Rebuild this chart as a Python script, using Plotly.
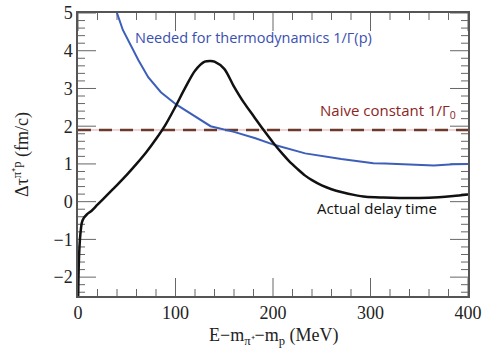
import plotly.graph_objects as go

# Actual delay time (black)
delay_x = [0.2, 0.5, 1, 2, 3, 4, 6, 9, 14, 20, 30, 40, 50, 60, 70, 80, 90, 100, 110, 120, 130, 136, 140,
           150, 160, 170, 180, 190, 200, 210, 216, 225, 233, 240, 250, 260, 271, 283, 295, 313, 330, 350,
           370, 385, 400]
delay_y = [-2.5, -2.0, -1.5, -1.0, -0.72, -0.55, -0.43, -0.34, -0.24, -0.08, 0.18, 0.44, 0.71, 1.0, 1.31,
           1.66, 2.05, 2.52, 3.02, 3.47, 3.71, 3.73, 3.71, 3.52, 3.05, 2.63, 2.27, 1.91, 1.57, 1.26, 1.09,
           0.87, 0.69, 0.57, 0.43, 0.33, 0.25, 0.18, 0.13, 0.11, 0.1, 0.1, 0.12, 0.15, 0.19]

# Needed for thermodynamics 1/Gamma(p) (blue)
thermo_x = [38, 40, 46, 55, 62, 72, 85, 101, 123, 136, 160, 182, 202, 233, 270, 303, 315, 335, 365, 385, 400]
thermo_y = [5.3, 5.0, 4.55, 4.1, 3.75, 3.3, 2.9, 2.57, 2.2, 2.0, 1.85, 1.68, 1.5, 1.28, 1.13, 1.02, 1.01,
            0.99, 0.96, 0.99, 1.0]

# Naive constant 1/Gamma_0
naive_x = [0, 400]
naive_y = [1.9, 1.9]

# tick positions
x_major = [0, 100, 200, 300, 400]
x_minor = [20, 40, 60, 80, 120, 140, 160, 180, 220, 240, 260, 280, 320, 340, 360, 380]
y_major = [-2, -1, 0, 1, 2, 3, 4, 5]
y_minor = [-2.4, -2.2, -1.8, -1.6, -1.4, -1.2, -0.8, -0.6, -0.4, -0.2, 0.2, 0.4, 0.6, 0.8,
           1.2, 1.4, 1.6, 1.8, 2.2, 2.4, 2.6, 2.8, 3.2, 3.4, 3.6, 3.8, 4.2, 4.4, 4.6, 4.8]

X_RANGE = [0, 400]
Y_RANGE = [-2.5, 5]
PLOT_W, PLOT_H = 390, 283  # plot area in pixels
px_x = (X_RANGE[1] - X_RANGE[0]) / PLOT_W
px_y = (Y_RANGE[1] - Y_RANGE[0]) / PLOT_H

# inward tick marks on all four sides, expressed in the axes' own units
tick_x, tick_y = [], []
for vals, length in [(x_major, 18), (x_minor, 7)]:
    for v in vals:
        tick_x += [v, v, None, v, v, None]
        tick_y += [Y_RANGE[0], Y_RANGE[0] + length * px_y, None,
                   Y_RANGE[1], Y_RANGE[1] - length * px_y, None]
for vals, length in [(y_major, 18), (y_minor, 7)]:
    for v in vals:
        tick_x += [X_RANGE[0], X_RANGE[0] + length * px_x, None,
                   X_RANGE[1], X_RANGE[1] - length * px_x, None]
        tick_y += [v, v, None, v, v, None]

fig = go.Figure()
fig.add_trace(go.Scatter(x=tick_x, y=tick_y, mode="lines", hoverinfo="skip", connectgaps=False,
                         line=dict(color="#666666", width=1)))
fig.add_trace(go.Scatter(x=naive_x, y=naive_y, mode="lines",
                         line=dict(color="#e6a8a8", width=1), hoverinfo="skip"))
fig.add_trace(go.Scatter(x=naive_x, y=naive_y, mode="lines",
                         line=dict(color="#6b3a2c", width=2.5, dash="13px,8px")))
fig.add_trace(go.Scatter(x=thermo_x, y=thermo_y, mode="lines",
                         line=dict(color="#3d5fb9", width=2)))
fig.add_trace(go.Scatter(x=delay_x, y=delay_y, mode="lines", line_shape="spline",
                         line=dict(color="#111111", width=2.5, smoothing=0.8)))

tickfont = dict(family="Liberation Serif", size=18, color="#222222")
axis_common = dict(showgrid=False, zeroline=False, showline=True, linecolor="#555555", linewidth=1.5,
                   mirror=True, ticks="", automargin=False, tickfont=tickfont)

fig.update_xaxes(range=X_RANGE, tickvals=x_major, **axis_common)
fig.update_yaxes(range=Y_RANGE, tickvals=y_major, **axis_common)

fig.add_annotation(x=0.5, y=-0.095, xref="paper", yref="paper", yanchor="top", showarrow=False,
                   text="E\u2212m<sub>\u03c0\u207a</sub>\u2212m<sub>p</sub> (MeV)",
                   font=dict(family="Liberation Serif", size=18, color="#222222"))
fig.add_annotation(x=-0.145, y=0.5, xref="paper", yref="paper", xanchor="center", showarrow=False,
                   textangle=-90,
                   text="\u0394\u03c4<sup>\u03c0\u207ap</sup> (fm/c)",
                   font=dict(family="Liberation Serif", size=18, color="#222222"))

fig.add_annotation(x=0.141, y=0.912, xref="paper", yref="paper", xanchor="left", yanchor="middle",
                   showarrow=False, text="Needed for thermodynamics 1/\u0393(p)",
                   font=dict(family="Open Sans", size=14.5, color="#3a50b0"))
fig.add_annotation(x=0.615, y=0.652, xref="paper", yref="paper", xanchor="left", yanchor="middle",
                   showarrow=False, text="Naive constant 1/\u0393<sub>0</sub>",
                   font=dict(family="Open Sans", size=15, color="#8b2525"))
fig.add_annotation(x=0.608, y=0.311, xref="paper", yref="paper", xanchor="left", yanchor="middle",
                   showarrow=False, text="Actual delay time",
                   font=dict(family="Open Sans", size=15, color="#111111"))

fig.update_layout(
    width=487, height=350, showlegend=False,
    margin=dict(l=78, r=19, t=13, b=54),
    plot_bgcolor="white", paper_bgcolor="white",
)

fig.write_html("out.html")
